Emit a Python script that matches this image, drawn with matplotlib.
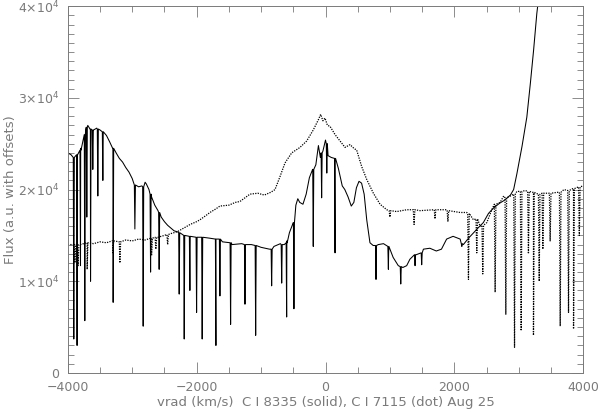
import numpy as np
import matplotlib
matplotlib.use('Agg')
import matplotlib.pyplot as plt
from matplotlib.ticker import FuncFormatter, MultipleLocator

# C I 8335 (solid): smooth continuum points
solid_v = [-4000, -3950, -3900, -3850, -3800, -3760, -3720, -3690, -3650, -3600,
           -3550, -3500, -3450, -3400, -3350, -3300, -3250, -3200, -3150, -3100,
           -3050, -3000, -2950, -2900, -2850, -2800, -2780, -2740, -2700, -2650,
           -2600, -2550, -2500, -2450, -2400, -2350, -2300, -2200, -2100, -1950,
           -1800, -1700, -1600, -1450, -1300, -1150, -1000, -870, -800, -700,
           -640, -600, -560, -500, -460, -430, -400, -350, -300, -250,
           -200, -150, -110, -80, -40, 0, 40, 90, 150, 200,
           260, 300, 350, 400, 440, 480, 520, 560, 600, 640,
           690, 740, 820, 900, 980, 1050, 1130, 1200, 1260, 1310,
           1410, 1520, 1620, 1720, 1800, 1880, 1980, 2090, 2140, 2220,
           2300, 2380, 2450, 2530, 2610, 2700, 2770, 2870, 2920, 2970,
           3050, 3125, 3180, 3230, 3280, 3310]
solid_f = [24000, 23800, 23500, 23800, 24500, 25500, 26600, 27000, 26600, 26500,
           26700, 26500, 26300, 25900, 25200, 24500, 24000, 23400, 23000, 22400,
           21900, 21200, 20500, 20300, 20400, 20800, 20600, 20000, 19200, 18300,
           17700, 17000, 16500, 16100, 15800, 15500, 15400, 15000, 14800, 14800,
           14700, 14600, 14300, 14000, 14100, 14000, 13700, 13500, 13800, 14100,
           14000, 14400, 15300, 16400, 18300, 19000, 18600, 18400, 19500, 21300,
           22200, 22700, 24800, 23500, 24200, 25400, 23700, 23500, 23100, 22300,
           20400, 20000, 19200, 18200, 18600, 20200, 20900, 20700, 19500, 16700,
           14200, 13900, 14000, 14100, 13100, 12600, 11700, 11500, 11700, 12400,
           12900, 13500, 13600, 13300, 13500, 14600, 14900, 14600, 14000, 14700,
           15300, 15900, 16400, 17400, 18000, 18500, 18800, 19400, 20000, 21700,
           24700, 27900, 31600, 35200, 39200, 41000]

# solid absorption lines: centre, level at the line edge, line bottom
solid_dip_v = [-3907, -3856, -3803, -3736, -3705, -3647, -3612, -3534, -3456, -3296,
               -2959, -2830, -2715, -2582, -2271, -2193, -2105, -2001, -1914, -1701,
               -1639, -1473, -1250, -1084, -836, -680, -603, -490, -190, -60,
               20, 148, 784, 976, 1168, 1390, 1493, 2116]
solid_dip_top = [23500, 23800, 24300, 26000, 26800, 26600, 26500, 26600, 26300, 24500,
                 20500, 20300, 19500, 17500, 15300, 15000, 14900, 14800, 14800, 14600,
                 14600, 14200, 14000, 13900, 13500, 14000, 14200, 16400, 22200, 24000,
                 25000, 23400, 13900, 13800, 11600, 12900, 13100, 14100]
solid_dip_bot = [3700, 3000, 11700, 5700, 17000, 10000, 22200, 19300, 21000, 7700,
                 15700, 5100, 11000, 11300, 8600, 3700, 9000, 6600, 3700, 3000,
                 8400, 5300, 7500, 4100, 9500, 9800, 6100, 7000, 13800, 19100,
                 21800, 13100, 10200, 11300, 9700, 11700, 11800, 13800]

# C I 7115 (dotted): continuum points
dot_v = [-4000, -3900, -3800, -3700, -3600, -3500, -3400, -3300, -3200, -3100,
         -3000, -2900, -2800, -2700, -2600, -2500, -2400, -2300, -2200, -2100,
         -2000, -1950, -1850, -1794, -1700, -1639, -1500, -1400, -1328, -1250,
         -1173, -1050, -950, -850, -784, -707, -629, -525, -396, -292,
         -190, -112, -75, -40, -8, 30, 70, 148, 225, 303,
         381, 440, 484, 562, 640, 743, 847, 951, 1106, 1261,
         1468, 1675, 1882, 2000, 2089, 2193, 2296, 2400, 2504, 2581,
         2710, 2766, 2870, 2970, 3100, 3228, 3300, 3400, 3500, 3600,
         3700, 3850, 4000]
dot_f = [14000, 14100, 14000, 14200, 14100, 14300, 14200, 14400, 14300, 14500,
         14400, 14600, 14500, 14700, 14800, 15000, 15200, 15400, 15800, 16200,
         16500, 16700, 17200, 17500, 17900, 18200, 18300, 18600, 18700, 19100,
         19500, 19600, 19400, 19700, 20000, 21400, 22900, 24000, 24600, 25300,
         26500, 27600, 28200, 27500, 27800, 27000, 26900, 26000, 25300, 24600,
         24900, 24500, 24300, 22500, 21100, 19600, 18400, 17800, 17600, 17800,
         17700, 17800, 17800, 17600, 17500, 17500, 16700, 16000, 16400, 17800,
         18600, 19300, 19300, 19800, 19900, 19700, 19500, 19600, 19600, 19700,
         20000, 20100, 20400]

dot_dip_v = [-3890, -3840, -3700, -3300, -3192, -2700, -2633, -2450, 1000, 1375,
             1700, 1900, 2219, 2348, 2441, 2633, 2799, 2934, 3037, 3150,
             3228, 3317, 3374, 3487, 3643, 3772, 3850, 3940]
dot_dip_top = [14000, 14000, 14200, 14400, 14300, 14700, 14800, 15100, 17700, 17800,
               17800, 17700, 17400, 16800, 16100, 18400, 19100, 19500, 19800, 19800,
               19700, 19500, 19600, 19600, 19700, 19900, 20100, 20300]
dot_dip_bot = [12000, 11700, 11300, 13100, 12000, 12800, 13500, 14000, 17000, 16200,
               16800, 16500, 10200, 13100, 10800, 8800, 6400, 2800, 4600, 13000,
               4100, 10000, 13500, 14400, 5100, 6600, 4800, 15000]


def with_lines(v, f, dv, dtop, dbot, hw):
    # add each absorption line as a narrow V into the continuum
    pts = list(zip(v, f))
    for c, t, b in zip(dv, dtop, dbot):
        pts += [(c - hw, t), (c, b), (c + hw, t)]
    pts.sort(key=lambda p: p[0])
    return [p[0] for p in pts], [p[1] for p in pts]


def ylab(y, pos):
    if y == 0:
        return '0'
    return r'$%d{\times}10^{4}$' % round(y / 1e4)


grey = '#7a7a7a'
plt.rcParams['font.family'] = 'DejaVu Sans'
plt.rcParams['mathtext.fontset'] = 'dejavusans'

fig = plt.figure(figsize=(6.0, 4.13), dpi=100)
ax = fig.add_axes([0.113, 0.097, 0.859, 0.888])

sx, sy = with_lines(solid_v, solid_f, solid_dip_v, solid_dip_top, solid_dip_bot, 8)
dx, dy = with_lines(dot_v, dot_f, dot_dip_v, dot_dip_top, dot_dip_bot, 12)
ax.plot(sx, sy, color='black', lw=0.75)
ax.plot(dx, dy, color='black', lw=0.9, linestyle=(0, (1.0, 1.0)))

ax.set_xlim(-4000, 4000)
ax.set_ylim(0, 40000)
ax.xaxis.set_major_locator(MultipleLocator(2000))
ax.xaxis.set_minor_locator(MultipleLocator(500))
ax.yaxis.set_major_locator(MultipleLocator(10000))
ax.yaxis.set_minor_locator(MultipleLocator(1000))
ax.yaxis.set_major_formatter(FuncFormatter(ylab))

ax.tick_params(which='both', direction='in', top=True, right=True,
               color=grey, labelcolor=grey, labelsize=9, width=0.6)
ax.tick_params(which='major', length=8, pad=6)
ax.tick_params(which='minor', length=4)
for s in ax.spines.values():
    s.set_color(grey)
    s.set_linewidth(0.7)

ax.set_xlabel('vrad (km/s)  C I 8335 (solid), C I 7115 (dot) Aug 25',
              color=grey, fontsize=9.5, labelpad=1)
ax.set_ylabel('Flux (a.u. with offsets)', color=grey, fontsize=9.5)
ax.yaxis.set_label_coords(-0.098, 0.5)

fig.savefig('out.png', dpi=100)
